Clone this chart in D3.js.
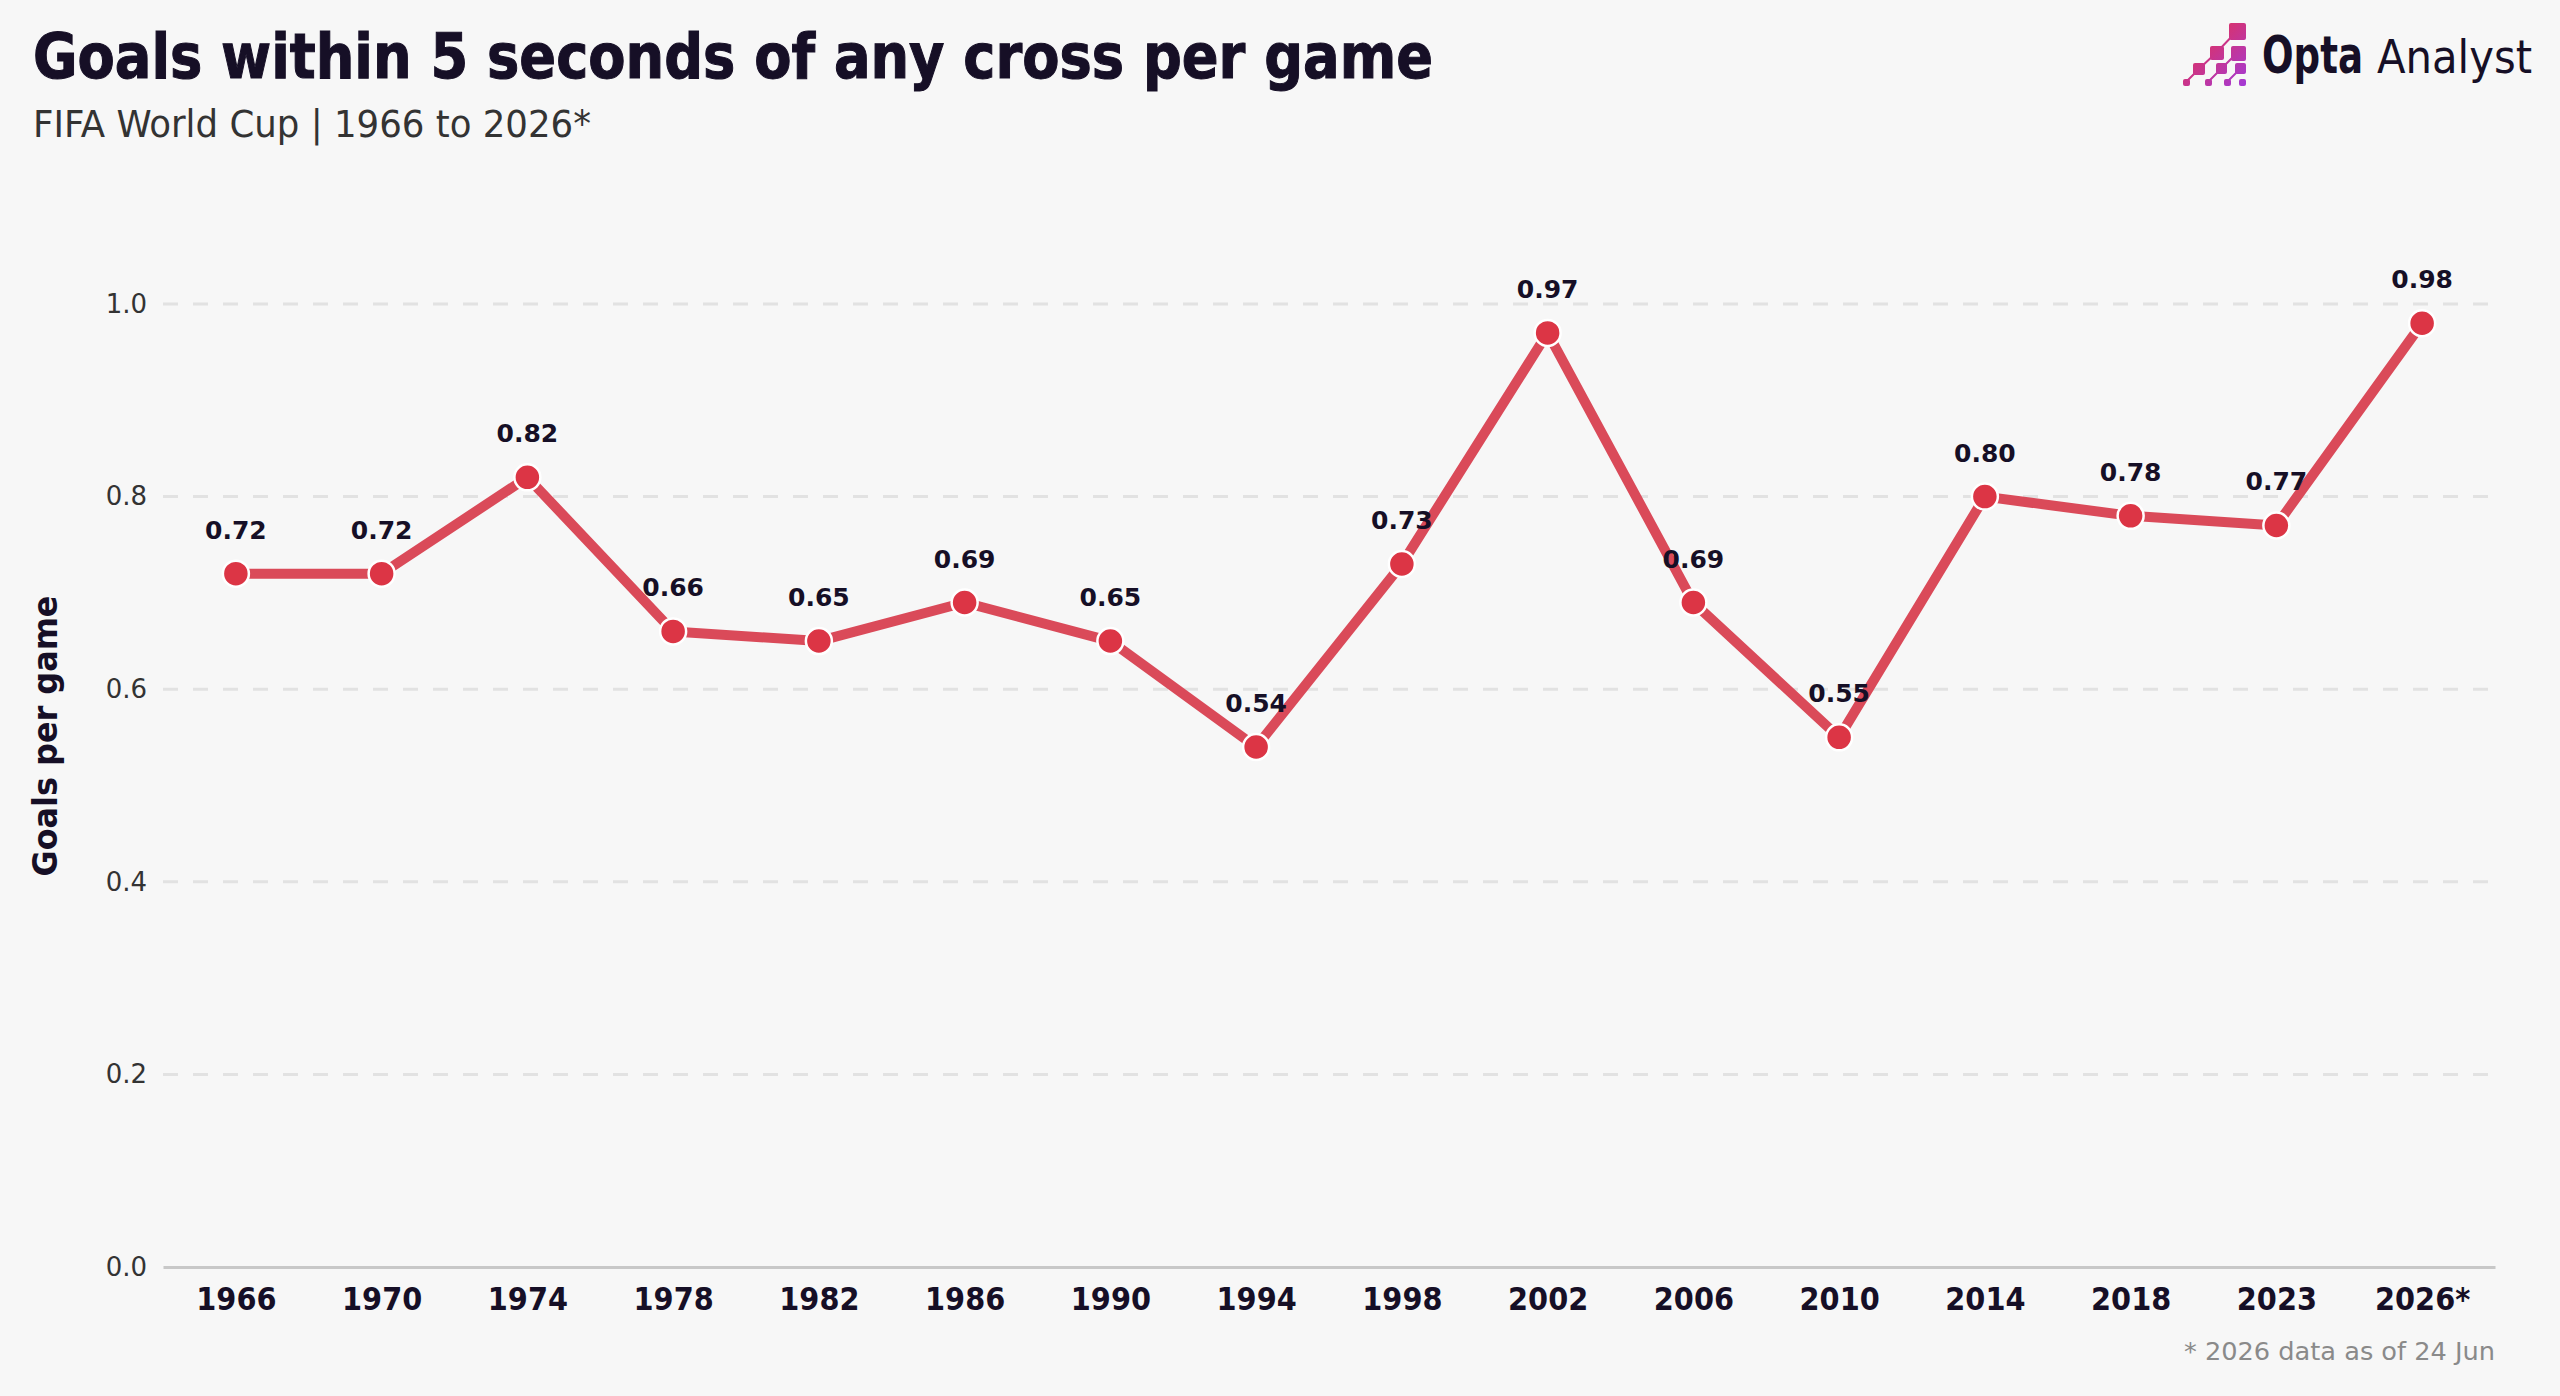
<!DOCTYPE html>
<html>
<head>
<meta charset="utf-8">
<script src="https://cdn.jsdelivr.net/npm/d3@7"></script>
<style>
  body { margin: 0; background: #f7f7f7; }
  svg { display: block; }
</style>
</head>
<body>
<div id="chart"></div>
<script>
// data
var years = ["1966", "1970", "1974", "1978", "1982", "1986", "1990", "1994",
             "1998", "2002", "2006", "2010", "2014", "2018", "2023", "2026*"];
var goalsPerGame = [0.72, 0.72, 0.82, 0.66, 0.65, 0.69, 0.65, 0.54,
                    0.73, 0.97, 0.69, 0.55, 0.80, 0.78, 0.77, 0.98];
var yTicks = [0.0, 0.2, 0.4, 0.6, 0.8, 1.0];

var width = 2560, height = 1396;
var margin = {top: 304, right: 65, bottom: 129, left: 163};
var dark = "#160f26";
var condensed = "'DejaVu Sans Condensed', 'DejaVu Sans', sans-serif";
var wide = "'DejaVu Sans', sans-serif";

var svg = d3.select("#chart")
              .append("svg")
                .attr("width", width)
                .attr("height", height);

svg.append("rect")
    .attr("width", width)
    .attr("height", height)
    .attr("fill", "#f7f7f7");

var data = years.map(function(y, i) { return {year: y, value: goalsPerGame[i]}; });

//scales
var x = d3.scalePoint().domain(years)
          .range([margin.left, width - margin.right])
          .padding(0.5);
var y = d3.scaleLinear().domain([0, 1])
          .range([height - margin.bottom, margin.top]);

//title block
svg.append("text")
    .attr("x", 33).attr("y", 78)
    .attr("font-family", condensed)
    .attr("font-weight", "bold")
    .attr("font-size", 62)
    .attr("textLength", 1400)
    .attr("lengthAdjust", "spacingAndGlyphs")
    .attr("fill", dark)
    .attr("stroke", dark)
    .attr("stroke-width", 1)
    .text("Goals within 5 seconds of any cross per game");

svg.append("text")
    .attr("x", 33).attr("y", 137)
    .attr("font-family", condensed)
    .attr("font-size", 37)
    .attr("textLength", 558)
    .attr("lengthAdjust", "spacingAndGlyphs")
    .attr("fill", "#333")
    .text("FIFA World Cup | 1966 to 2026*");

//gridlines
svg.append("g")
    .selectAll("line")
    .data(yTicks.filter(function(d) { return d > 0; }))
    .enter().append("line")
      .attr("x1", margin.left)
      .attr("x2", width - margin.right)
      .attr("y1", function(d) { return y(d); })
      .attr("y2", function(d) { return y(d); })
      .attr("stroke", "#e2e2e2")
      .attr("stroke-width", 3)
      .attr("stroke-dasharray", "15,15");

//y axis
var yAxis = svg.append("g")
    .attr("transform", "translate(" + margin.left + ",0)")
    .call(d3.axisLeft(y).tickValues(yTicks).tickFormat(d3.format(".1f")).tickSize(0).tickPadding(16));
yAxis.select(".domain").remove();
yAxis.selectAll("text")
    .attr("font-family", wide)
    .attr("font-size", 26)
    .attr("fill", "#333");

svg.append("text")
    .attr("transform", "translate(57,736) rotate(-90)")
    .attr("text-anchor", "middle")
    .attr("font-family", condensed)
    .attr("font-weight", "bold")
    .attr("font-size", 33)
    .attr("textLength", 281)
    .attr("lengthAdjust", "spacingAndGlyphs")
    .attr("fill", dark)
    .text("Goals per game");

//x axis
var xAxis = svg.append("g")
    .attr("transform", "translate(0," + y(0) + ")")
    .call(d3.axisBottom(x).tickSize(0).tickPadding(20));
xAxis.select(".domain")
    .attr("stroke", "#c8c8c8")
    .attr("stroke-width", 3);
xAxis.selectAll("text")
    .attr("font-family", condensed)
    .attr("font-weight", "bold")
    .attr("font-size", 32)
    .attr("fill", dark);

//line and points
var line = d3.line()
    .x(function(d) { return x(d.year); })
    .y(function(d) { return y(d.value); });

svg.append("path")
    .datum(data)
    .attr("d", line)
    .attr("fill", "none")
    .attr("stroke", "#da4a59")
    .attr("stroke-width", 10)
    .attr("stroke-linejoin", "round");

svg.append("g")
    .selectAll("circle")
    .data(data)
    .enter().append("circle")
      .attr("cx", function(d) { return x(d.year); })
      .attr("cy", function(d) { return y(d.value); })
      .attr("r", 13)
      .attr("fill", "#dc3545")
      .attr("stroke", "#fff")
      .attr("stroke-width", 2.5);

svg.append("g")
    .selectAll("text")
    .data(data)
    .enter().append("text")
      .attr("x", function(d) { return x(d.year); })
      .attr("y", function(d) { return y(d.value) - 35; })
      .attr("text-anchor", "middle")
      .attr("font-family", wide)
      .attr("font-weight", "bold")
      .attr("font-size", 25)
      .attr("fill", dark)
      .text(function(d) { return d.value.toFixed(2); });

//footnote
svg.append("text")
    .attr("x", width - margin.right).attr("y", 1360)
    .attr("text-anchor", "end")
    .attr("font-family", condensed)
    .attr("font-size", 25)
    .attr("textLength", 311)
    .attr("lengthAdjust", "spacingAndGlyphs")
    .attr("fill", "#8a8a8a")
    .text("* 2026 data as of 24 Jun");

//logo
var logo = svg.append("g");
var grad = svg.append("defs").append("linearGradient")
    .attr("id", "logoGrad")
    .attr("gradientUnits", "userSpaceOnUse")
    .attr("x1", 2190).attr("y1", 25).attr("x2", 2246).attr("y2", 85);
grad.append("stop").attr("offset", "0").attr("stop-color", "#ec2f45");
grad.append("stop").attr("offset", "1").attr("stop-color", "#a43ad6");

var squares = [[2229, 23, 17], [2210, 46, 14], [2231, 46, 15],
               [2193, 63, 12], [2216, 63, 11], [2235, 63, 11],
               [2183, 79, 7], [2205, 79, 7], [2224, 79, 7], [2239, 79, 7]];
logo.selectAll("rect")
    .data(squares)
    .enter().append("rect")
      .attr("x", function(d) { return d[0]; })
      .attr("y", function(d) { return d[1]; })
      .attr("width", function(d) { return d[2]; })
      .attr("height", function(d) { return d[2]; })
      .attr("rx", 2)
      .attr("fill", "url(#logoGrad)");
logo.append("path")
    .attr("d", "M2186,82 L2199,69 L2217,52 L2237,31 M2208,82 L2221,69 L2238,52 M2227,82 L2240,69")
    .attr("stroke", "url(#logoGrad)")
    .attr("stroke-width", 2)
    .attr("fill", "none");

logo.append("text")
    .attr("x", 2262).attr("y", 73)
    .attr("font-family", condensed)
    .attr("font-weight", "bold")
    .attr("font-size", 52)
    .attr("textLength", 101)
    .attr("lengthAdjust", "spacingAndGlyphs")
    .attr("fill", dark)
    .text("Opta");
logo.append("text")
    .attr("x", 2377).attr("y", 73)
    .attr("font-family", condensed)
    .attr("font-size", 46)
    .attr("textLength", 155)
    .attr("lengthAdjust", "spacingAndGlyphs")
    .attr("fill", dark)
    .text("Analyst");
</script>
</body>
</html>
